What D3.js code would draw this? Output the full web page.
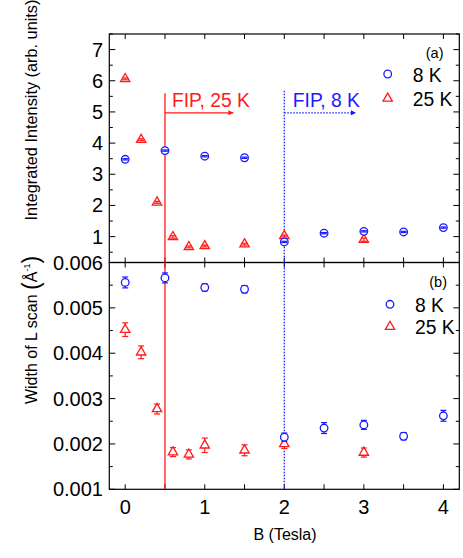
<!DOCTYPE html>
<html><head><meta charset="utf-8">
<script src="https://cdn.jsdelivr.net/npm/d3@7"></script>
<style>
html,body{margin:0;padding:0;background:#fff;}
svg{display:block;font-family:"Liberation Sans",Arial,sans-serif;}
</style></head>
<body>
<svg id="c" width="463" height="558"></svg>
<script>
// ---------- data ----------
const field8 = [0, 0.5, 1, 1.5, 2, 2.5, 3, 3.5, 4];
const field25 = [0, 0.2, 0.4, 0.6, 0.8, 1.0, 1.5, 2, 3];
const intensity8 = [3.48, 3.76, 3.58, 3.53, 0.83, 1.11, 1.17, 1.15, 1.29];
const intensityErr8 = [0.02, 0.02, 0.02, 0.02, 0.02, 0.02, 0.02, 0.02, 0.02];
const intensity25 = [6.06, 4.11, 2.10, 0.99, 0.67, 0.70, 0.76, 1.02, 0.90];
const intensityErr25 = [0.03, 0.03, 0.03, 0.04, 0.03, 0.03, 0.03, 0.03, 0.05];
const width8 = [0.00556, 0.00566, 0.00545, 0.00541, 0.00215, 0.00235, 0.00242, 0.00217, 0.00262];
const widthErr8 = [0.00012, 0.00011, 0.00008, 0.00008, 0.00009, 0.00012, 0.00010, 0.00008, 0.00012];
const width25 = [0.00452, 0.00402, 0.00277, 0.00182, 0.00177, 0.00197, 0.00186, 0.00200, 0.00181];
const widthErr25 = [0.00015, 0.00014, 0.00011, 0.00010, 0.00010, 0.00016, 0.00012, 0.00010, 0.00010];
const xTicks = [0, 1, 2, 3, 4];
const yTicksA = [1, 2, 3, 4, 5, 6, 7];
const yTicksB = [0.001, 0.002, 0.003, 0.004, 0.005, 0.006];
const seriesLabels = ["8 K", "25 K"];
const fip25 = 0.5, fip8 = 2;

// ---------- layout ----------
const BLUE = "#1a1aff", RED = "#ff1a1a";
const svg = d3.select("#c");
const L = 109.3, R = 459.3, T = 34, M = 262.5, B = 489.3;
const x = d3.scaleLinear([-0.2, 4.2], [L, R]);
const yA = d3.scaleLinear([0.17, 7.5], [M, T]);
const yB = d3.scaleLinear([0.001, 0.006], [B, M]);

// arrow marker defs
const defs = svg.append("defs");
[["arrRed", RED], ["arrBlue", BLUE]].forEach(([id, c]) => {
  defs.append("marker").attr("id", id).attr("viewBox", "0 0 10 10")
    .attr("refX", 10).attr("refY", 5).attr("markerWidth", 8).attr("markerHeight", 5)
    .attr("markerUnits", "userSpaceOnUse").attr("orient", "auto")
    .append("path").attr("d", "M0,0L10,5L0,10Z").attr("fill", c);
});

function frame(y, yMajor, yMinorStep) {
  const g = svg.append("g");
  const [y0, y1] = y.domain();
  const xs = d3.range(0, 4.01, 0.5);
  xs.forEach(v => {
    const len = 5;
    g.append("line").attr("x1", x(v)).attr("x2", x(v))
      .attr("y1", y.range()[0]).attr("y2", y.range()[0] - len).attr("stroke", "#000");
    g.append("line").attr("x1", x(v)).attr("x2", x(v))
      .attr("y1", y.range()[1]).attr("y2", y.range()[1] + len).attr("stroke", "#000");
  });
  const minors = [];
  for (let v = Math.ceil(y0 / yMinorStep) * yMinorStep; v <= y1 + 1e-12; v += yMinorStep) minors.push(+v.toPrecision(6));
  minors.forEach(v => {
    const major = yMajor.some(m => Math.abs(m - v) < yMinorStep * 1e-3);
    const len = major ? 6 : 3.5;
    g.append("line").attr("x1", L).attr("x2", L + len).attr("y1", y(v)).attr("y2", y(v)).attr("stroke", "#000");
    g.append("line").attr("x1", R).attr("x2", R - len).attr("y1", y(v)).attr("y2", y(v)).attr("stroke", "#000");
  });
  g.append("rect").attr("x", L).attr("y", y.range()[1]).attr("width", R - L)
    .attr("height", y.range()[0] - y.range()[1]).attr("fill", "none").attr("stroke", "#000").attr("stroke-width", 1.2);
  return g;
}

frame(yA, yTicksA, 0.5);
frame(yB, yTicksB, 0.0005);

// y tick labels
svg.append("g").selectAll("text").data(yTicksA).join("text")
  .attr("x", 103).attr("y", d => yA(d) + 7).attr("text-anchor", "end")
  .attr("font-size", 20).text(d => d);
svg.append("g").selectAll("text").data(yTicksB).join("text")
  .attr("x", 103).attr("y", d => yB(d) + 7).attr("text-anchor", "end")
  .attr("font-size", 20).text(d => d3.format(".3f")(d));
// x tick labels
svg.append("g").selectAll("text").data(xTicks).join("text")
  .attr("x", d => x(d)).attr("y", 514).attr("text-anchor", "middle")
  .attr("font-size", 20).text(d => d);

// axis titles
svg.append("text").attr("transform", "translate(37,110) rotate(-90)")
  .attr("text-anchor", "middle").attr("font-size", 16.3)
  .text("Integrated Intensity (arb. units)");
const wt = svg.append("text").attr("transform", "translate(37,330) rotate(-90)")
  .attr("text-anchor", "middle").attr("font-size", 16);
wt.append("tspan").text("Width of L scan ");
wt.append("tspan").attr("font-size", 23).attr("dy", 2).text("(");
wt.append("tspan").attr("dy", -2).text("Å");
wt.append("tspan").attr("font-size", 9).attr("dy", -7).text("-1");
wt.append("tspan").attr("font-size", 23).attr("dy", 9).text(")");
svg.append("text").attr("x", 285).attr("y", 540).attr("text-anchor", "middle")
  .attr("font-size", 16).text("B (Tesla)");

// FIP lines and arrows
svg.append("line").attr("x1", x(fip25)).attr("x2", x(fip25))
  .attr("y1", yA(5.6)).attr("y2", B).attr("stroke", RED).attr("stroke-width", 1.3);
svg.append("line").attr("x1", x(fip8)).attr("x2", x(fip8))
  .attr("y1", yA(5.68)).attr("y2", B).attr("stroke", BLUE).attr("stroke-width", 1.3)
  .attr("stroke-dasharray", "1.5,1.5");
svg.append("line").attr("x1", x(fip25)).attr("x2", x(1.36))
  .attr("y1", yA(4.97)).attr("y2", yA(4.97)).attr("stroke", RED).attr("stroke-width", 1.2)
  .attr("marker-end", "url(#arrRed)");
svg.append("line").attr("x1", x(fip8)).attr("x2", x(2.9))
  .attr("y1", yA(4.97)).attr("y2", yA(4.97)).attr("stroke", BLUE).attr("stroke-width", 1.2)
  .attr("stroke-dasharray", "1.5,1.5").attr("marker-end", "url(#arrBlue)");
svg.append("text").attr("x", x(fip25) + 7).attr("y", 106.7).attr("font-size", 19.3)
  .attr("fill", RED).text("FIP, 25 K");
svg.append("text").attr("x", x(fip8) + 8.5).attr("y", 106.7).attr("font-size", 19.3)
  .attr("fill", BLUE).text("FIP, 8 K");

// markers
const tri = d3.symbol(d3.symbolTriangle, 38);
function drawSeries(xs, ys, es, y, shape, color, barsOnTop) {
  const g = svg.append("g");
  const data = xs.map((v, i) => ({x: v, y: ys[i], e: es[i]}));
  function bars(gg) {
    data.forEach(d => {
      const top = y(d.y + d.e), bot = y(d.y - d.e), cx = x(d.x);
      gg.append("line").attr("x1", cx).attr("x2", cx).attr("y1", top).attr("y2", bot)
        .attr("stroke", color).attr("stroke-width", 1.2);
      [top, bot].forEach(v => gg.append("line").attr("x1", cx - 3).attr("x2", cx + 3)
        .attr("y1", v).attr("y2", v).attr("stroke", color).attr("stroke-width", 1.2));
    });
  }
  if (!barsOnTop) bars(g.append("g"));
  const mg = g.append("g");
  if (shape === "circle") {
    mg.selectAll("circle").data(data).join("circle")
      .attr("cx", d => x(d.x)).attr("cy", d => y(d.y)).attr("r", 3.8)
      .attr("fill", "#fff").attr("stroke", color).attr("stroke-width", 1.3);
  } else {
    mg.selectAll("path.m").data(data).join("path").attr("class", "m")
      .attr("d", tri).attr("transform", d => `translate(${x(d.x)},${y(d.y)})`)
      .attr("fill", "#fff").attr("stroke", color).attr("stroke-width", 1.3);
  }
  if (barsOnTop) bars(g.append("g"));
}
drawSeries(field25, intensity25, intensityErr25, yA, "tri", RED, true);
drawSeries(field8, intensity8, intensityErr8, yA, "circle", BLUE, true);
drawSeries(field25, width25, widthErr25, yB, "tri", RED, false);
drawSeries(field8, width8, widthErr8, yB, "circle", BLUE, false);

// legends
function legend(tag, tagX, tagY, mx, y1, y2) {
  svg.append("text").attr("x", tagX).attr("y", tagY).attr("text-anchor", "end")
    .attr("font-size", 14.5).text(tag);
  svg.append("circle").attr("cx", mx).attr("cy", y1).attr("r", 3.8)
    .attr("fill", "#fff").attr("stroke", BLUE).attr("stroke-width", 1.3);
  svg.append("path").attr("d", tri).attr("transform", `translate(${mx},${y2})`)
    .attr("fill", "#fff").attr("stroke", RED).attr("stroke-width", 1.3);
  svg.append("text").attr("x", mx + 25).attr("y", y1 + 7.5).attr("font-size", 19.3).text(seriesLabels[0]);
  svg.append("text").attr("x", mx + 25).attr("y", y2 + 7.5).attr("font-size", 19.3).text(seriesLabels[1]);
}
legend("(a)", 443.5, 57.7, 387.7, 74, 98.5);
legend("(b)", 447, 287, 390, 304.3, 326.7);
</script>
</body></html>
